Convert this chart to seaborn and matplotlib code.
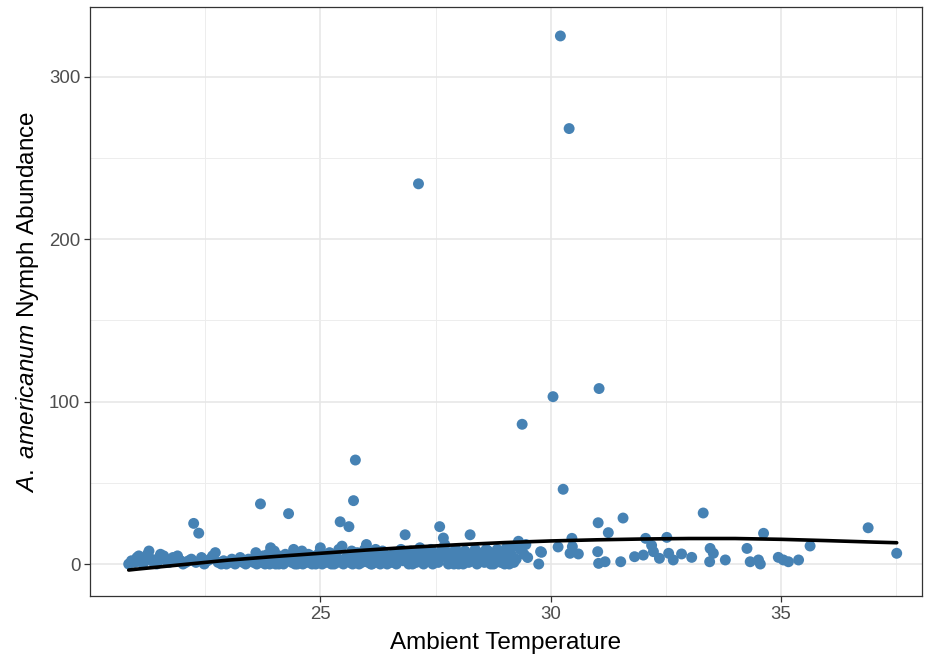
import pandas as pd
import seaborn as sns
import matplotlib.pyplot as plt

# (ambient temperature, nymph count), grouped by region
cool_sites = [
    (20.84, 0), (20.90, 2), (20.97, 1), (21.02, 4), (21.06, 5), (21.10, 3),
    (21.15, 0), (21.20, 2), (21.25, 6), (21.28, 8), (21.33, 3), (21.38, 1),
    (21.45, 0), (21.50, 4), (21.53, 6), (21.60, 5), (21.66, 2), (21.72, 1),
    (21.80, 4), (21.86, 3), (21.90, 5), (21.97, 2), (22.02, 0), (22.08, 1),
    (22.14, 2), (22.20, 3), (22.25, 25), (22.30, 1), (22.36, 19), (22.42, 4),
    (22.48, 0), (22.55, 2), (22.61, 3), (22.66, 5), (22.72, 7), (22.78, 1),
    (22.85, 0), (22.90, 2), (22.96, 0), (23.02, 1), (23.08, 3), (23.15, 0),
    (23.20, 2), (23.26, 4), (23.32, 1), (23.38, 0), (23.44, 3), (23.50, 2),
]

mid_sites = [
    (23.55, 1), (23.58, 4), (23.62, 0), (23.65, 2), (23.70, 37), (23.72, 3),
    (23.74, 1), (23.76, 5), (23.80, 0), (23.83, 2), (23.86, 6), (23.90, 3),
    (23.92, 10), (23.95, 1), (24.00, 4), (24.03, 0), (24.06, 2), (24.10, 5),
    (24.13, 1), (24.17, 3), (24.20, 0), (24.24, 6), (24.28, 2), (24.31, 31),
    (24.34, 4), (24.38, 1), (24.42, 9), (24.45, 0), (24.50, 3), (24.54, 5),
    (24.58, 2), (24.62, 0), (24.66, 4), (24.70, 1), (24.74, 6), (24.78, 3),
    (24.82, 0), (24.86, 2), (24.90, 5), (24.94, 1), (24.98, 7), (25.00, 10),
    (25.04, 0), (25.08, 3), (25.12, 1), (25.16, 5), (25.20, 2), (25.24, 0),
    (25.28, 4), (25.32, 6), (25.36, 1), (25.40, 3), (25.43, 26), (25.47, 11),
    (25.50, 0), (25.54, 2), (25.58, 5), (25.62, 23), (25.64, 1), (25.68, 8),
    (25.72, 39), (25.76, 64), (25.80, 3), (25.84, 0), (25.88, 6), (25.92, 2),
    (25.96, 9), (26.00, 12), (26.04, 1), (26.08, 4), (26.12, 0), (26.16, 7),
    (26.20, 3), (26.25, 1), (26.30, 5), (26.35, 8), (26.40, 2), (26.45, 0),
    (23.60, 7), (23.80, 4), (24.00, 8), (24.20, 3), (24.40, 6), (24.60, 8),
    (24.80, 5), (25.00, 3), (25.20, 7), (25.40, 9), (25.60, 4), (25.80, 7),
    (26.00, 5), (26.20, 9), (26.40, 6), (24.10, 0), (24.50, 0), (24.90, 0),
    (25.30, 0), (25.70, 0), (26.10, 0), (26.30, 0), (23.90, 0), (25.10, 2),
    (25.90, 1),
]

warm_sites = [
    (26.50, 4), (26.55, 1), (26.60, 7), (26.65, 0), (26.70, 3), (26.75, 9),
    (26.80, 2), (26.84, 18), (26.88, 5), (26.92, 0), (26.96, 8), (27.00, 3),
    (27.04, 6), (27.08, 1), (27.13, 234), (27.16, 10), (27.20, 4), (27.24, 0),
    (27.28, 7), (27.32, 2), (27.36, 5), (27.40, 9), (27.44, 0), (27.48, 3),
    (27.52, 6), (27.56, 1), (27.59, 23), (27.62, 8), (27.67, 16), (27.70, 12),
    (27.74, 4), (27.78, 0), (27.82, 7), (27.86, 2), (27.90, 5), (27.94, 9),
    (27.98, 1), (28.02, 6), (28.06, 3), (28.10, 0), (28.14, 8), (28.18, 4),
    (28.22, 1), (28.25, 18), (28.28, 6), (28.32, 2), (28.36, 9), (28.40, 0),
    (28.44, 5), (28.48, 3), (28.52, 7), (28.56, 1), (28.60, 4), (28.64, 8),
    (28.68, 2), (28.72, 6), (28.76, 0), (28.80, 3), (28.84, 9), (28.88, 5),
    (28.92, 1), (28.96, 7), (29.00, 4), (29.04, 10), (29.08, 2), (29.12, 7),
    (29.16, 5), (29.20, 11), (29.25, 3), (29.30, 14), (29.34, 9), (29.38, 86),
    (29.42, 6), (29.46, 12), (29.50, 4),
    (26.60, 3), (26.80, 6), (27.00, 0), (27.20, 8), (27.40, 3), (27.60, 5),
    (27.80, 3), (28.00, 0), (28.20, 6), (28.40, 4), (28.60, 9), (28.80, 6),
    (29.00, 0), (29.20, 1), (26.70, 6), (27.10, 5), (27.50, 4), (27.90, 0),
    (28.30, 4), (28.70, 0), (29.10, 0),
]

hot_sites = [
    (29.74, 0), (29.78, 7.6), (29.80, 7.2), (30.05, 103), (30.16, 10.5),
    (30.21, 325), (30.27, 46), (30.40, 268), (30.42, 6.6), (30.46, 15.8),
    (30.47, 10.7), (30.60, 6.2), (31.02, 7.6), (31.03, 25.4), (31.04, 0.4),
    (31.05, 108), (31.18, 1.4), (31.25, 19.3), (31.52, 1.4), (31.57, 28.3),
    (31.82, 4.5), (32.01, 5.5), (32.06, 15.8), (32.19, 11.5), (32.23, 7.6),
    (32.36, 3.5), (32.52, 16.4), (32.56, 6.6), (32.66, 2.5), (32.84, 6.2),
    (33.06, 4.1), (33.31, 31.4), (33.46, 9.6), (33.53, 6.6), (33.45, 1.4),
    (33.79, 2.5), (34.26, 9.6), (34.33, 1.4), (34.51, 2.5), (34.55, 0),
    (34.62, 18.9), (34.94, 4.1), (35.05, 2.5), (35.16, 1.4), (35.38, 2.5),
    (35.63, 11.1), (36.89, 22.3), (37.51, 6.6),
]

# fitted curve
fit_temp = [20.84, 21, 22, 23, 24, 25, 26, 27, 28, 29, 30, 31, 32, 33, 34,
            35, 36, 37, 37.51]
fit_nymphs = [-3.7, -3.2, -0.4, 2.4, 4.6, 6.6, 8.6, 10.4, 11.9, 13.2, 14.2,
              14.9, 15.4, 15.7, 15.7, 15.2, 14.4, 13.5, 13.1]

x_ticks = [25, 30, 35]
x_minor = [22.5, 27.5, 32.5, 37.5]
y_ticks = [0, 100, 200, 300]
y_minor = [50, 150, 250]

sites = pd.DataFrame(cool_sites + mid_sites + warm_sites + hot_sites,
                     columns=["temp", "nymphs"])
fit = pd.DataFrame({"temp": fit_temp, "nymphs": fit_nymphs})

sns.set_theme(style="white")
plt.rcParams["font.family"] = ["Liberation Sans", "DejaVu Sans"]
plt.rcParams["mathtext.fontset"] = "custom"
plt.rcParams["mathtext.it"] = "Liberation Sans:italic"
plt.rcParams["mathtext.rm"] = "Liberation Sans"

fig = plt.figure(figsize=(9.25, 6.57), dpi=100)
ax = fig.add_axes([0.0973, 0.0928, 0.8995, 0.8965])

sns.scatterplot(data=sites, x="temp", y="nymphs", ax=ax, color="#4682B4",
                s=62, edgecolor="none", linewidth=0, zorder=3)
sns.lineplot(data=fit, x="temp", y="nymphs", ax=ax, color="black",
             linewidth=2.6, sort=True, zorder=4)

ax.set_xlim(20.0, 38.06)
ax.set_ylim(-19.7, 342.8)
ax.set_xticks(x_ticks)
ax.set_xticks(x_minor, minor=True)
ax.set_yticks(y_ticks)
ax.set_yticks(y_minor, minor=True)

ax.grid(which="major", color="#E6E6E6", linewidth=1.1)
ax.grid(which="minor", color="#EDEDED", linewidth=0.7)
ax.set_axisbelow(True)
for spine in ax.spines.values():
    spine.set_color("#333333")
    spine.set_linewidth(0.9)

ax.tick_params(which="major", length=4, width=0.9, color="#333333",
               labelsize=13.4, labelcolor="#4D4D4D", pad=3,
               bottom=True, left=True)
ax.tick_params(which="minor", length=0)

ax.set_xlabel("Ambient Temperature", fontsize=17.5, color="black", labelpad=7)
ax.set_ylabel(r"$\mathit{A.\ americanum}$ Nymph Abundance", fontsize=17.5,
              color="black", labelpad=6)

fig.savefig("out.png", dpi=100)
